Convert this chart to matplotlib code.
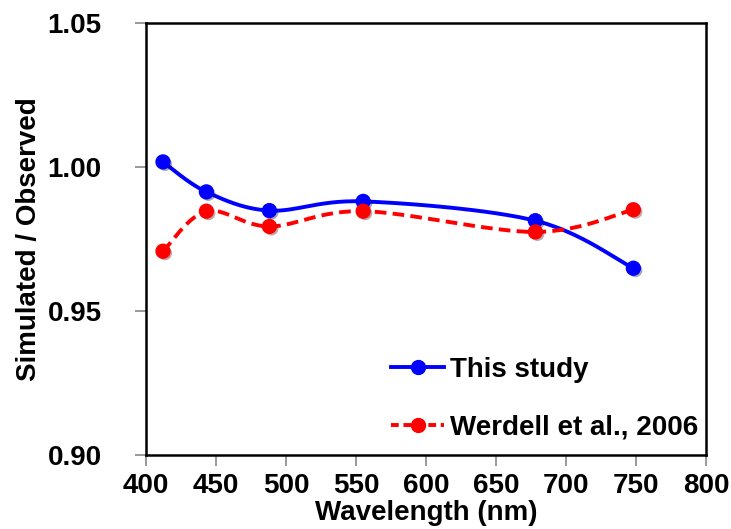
import numpy as np
import matplotlib
matplotlib.use("Agg")
import matplotlib.pyplot as plt
import matplotlib.patheffects as pe

wavelength = [412, 443, 488, 555, 678, 748]
thisStudy = [1.0017, 0.9913, 0.9848, 0.9880, 0.9813, 0.9648]
werdell = [0.9707, 0.9846, 0.9793, 0.9846, 0.9774, 0.9851]

xTicks = [400, 450, 500, 550, 600, 650, 700, 750, 800]
yTicks = [0.90, 0.95, 1.00, 1.05]


def smoothCurve(x, y, steps=30):
    # catmull-rom style smoothing, like the spreadsheet "smoothed line"
    p = np.column_stack([x, y]).astype(float)
    p = np.vstack([p[0], p, p[-1]])
    out = []
    for i in range(1, len(p) - 2):
        p0, p1, p2, p3 = p[i-1], p[i], p[i+1], p[i+2]
        t = np.linspace(0, 1, steps)[:, None]
        c1 = p1 + (p2 - p0) / 6
        c2 = p2 - (p3 - p1) / 6
        seg = ((1-t)**3)*p1 + 3*((1-t)**2)*t*c1 + 3*(1-t)*(t**2)*c2 + (t**3)*p2
        out.append(seg)
    out = np.vstack(out)
    return out[:, 0], out[:, 1]


plt.rcParams["font.family"] = ["Liberation Sans", "DejaVu Sans"]
plt.rcParams["font.weight"] = "bold"

fig = plt.figure(figsize=(7.31, 5.29), dpi=100)
ax = fig.add_axes([0.2, 0.14, 0.766, 0.817])

shadow = [pe.SimplePatchShadow(offset=(1.5, -1.5), alpha=0.35), pe.Normal()]

sx, sy = smoothCurve(wavelength, thisStudy)
ax.plot(sx, sy, color="#0000FF", linewidth=2.8, zorder=3)
ax.plot(wavelength, thisStudy, linestyle="none", marker="o", markersize=10,
        color="#0000FF", zorder=4, path_effects=shadow)

wx, wy = smoothCurve(wavelength, werdell)
ax.plot(wx, wy, color="#FF0000", linewidth=2.8, linestyle=(0, (3, 1.6)), zorder=3)
ax.plot(wavelength, werdell, linestyle="none", marker="o", markersize=10,
        color="#FF0000", zorder=4, path_effects=shadow)

# legend proxies
h1, = ax.plot([], [], color="#0000FF", linewidth=2.8, marker="o", markersize=10, label="This study")
h2, = ax.plot([], [], color="#FF0000", linewidth=2.8, linestyle=(0, (2, 1.2)), marker="o",
              markersize=10, label="Werdell et al., 2006")
ax.legend(handles=[h1, h2], loc="lower right", bbox_to_anchor=(1.03, -0.025), frameon=False,
          fontsize=20, handlelength=1.9, handletextpad=0.2, labelspacing=1.15)

ax.set_xlim(400, 800)
ax.set_ylim(0.90, 1.05)
ax.set_xticks(xTicks)
ax.set_yticks(yTicks)
ax.set_yticklabels(["%.2f" % v for v in yTicks])
ax.tick_params(direction="out", length=8, width=1.2, color="#888888", labelsize=20)
ax.tick_params(axis="x", pad=5)
ax.tick_params(axis="y", pad=24)
for spine in ax.spines.values():
    spine.set_linewidth(1.8)
    spine.set_color("black")

ax.set_xlabel("Wavelength (nm)", fontsize=20, fontweight="bold", labelpad=1)
ax.set_ylabel("Simulated / Observed", fontsize=20, fontweight="bold", labelpad=4)

fig.savefig("out.png", dpi=100)
